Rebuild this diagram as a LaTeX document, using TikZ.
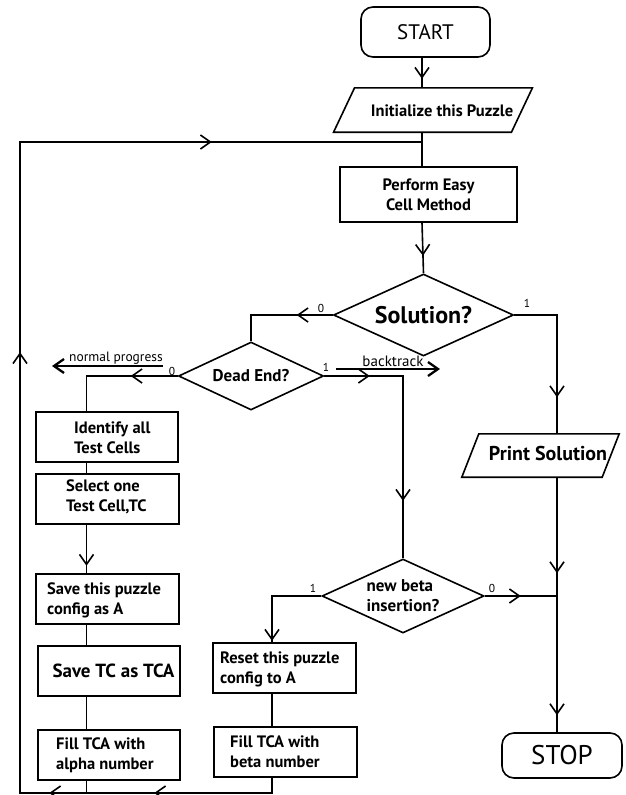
\documentclass[tikz,border=0pt]{standalone}
\usepackage{fontspec}
\setmainfont{PT Sans}
\usetikzlibrary{shapes.geometric,arrows.meta,decorations.markings}

\newcommand\boldsz[1]{\bfseries\fontsize{#1}{20}\selectfont}
\newcommand\plainsz[1]{\fontsize{#1}{#1}\selectfont}
% outline of a slanted (parallelogram) box around a plain rectangle node
\newcommand\slantoutline[2]{%
  \draw[outline] ([xshift=#2]#1.north west) -- ([xshift=#2]#1.north east)
    -- ([xshift=-#2]#1.south east) -- ([xshift=-#2]#1.south west) -- cycle;}

\tikzset{
  conn/.style={line width=1.6pt},
  outline/.style={draw, line width=1.6pt},
  box/.style={draw, line width=1.6pt, rectangle, inner sep=0pt},
  term/.style={draw, line width=1.6pt, rectangle, rounded corners=12pt, inner sep=0pt},
  slantbox/.style={rectangle, inner sep=0pt},
  decision/.style={draw, line width=1.6pt, diamond, aspect=2.2, inner sep=0pt},
  btxt/.style={font=\boldsz{16.5}, align=left, inner sep=0pt},
  flag/.style={font=\plainsz{11.5}, inner sep=0pt},
  midtip/.style={postaction={decorate, decoration={markings,
      mark=at position #1 with {\arrow[line width=1.6pt]{Straight Barb[length=10pt,width=14pt]}}}}},
  hint/.style={line width=2.3pt, -{Straight Barb[length=10pt,width=14pt]}},
}

\begin{document}
\begin{tikzpicture}[x=1pt,y=-1pt]
\useasboundingbox (0,0) rectangle (625,795);
\clip (0,0) rectangle (625,795);

% vertical rails used by the connectors
\coordinate (spine) at (422,0);
\coordinate (rail) at (557,0);
\coordinate (xl) at (86.5,0);
\coordinate (xr) at (272,0);
\coordinate (loopin) at (422,142);
\coordinate (tl) at (20,142);
\coordinate (bl) at (20,793);

% terminals
\node[term, minimum width=129pt, minimum height=50pt, font=\plainsz{21}] (start) at (425.5,32) {START};
\node[term, minimum width=120pt, minimum height=45pt, font=\plainsz{27}] (stop) at (562,755.5) {STOP};

% initialisation
\node[slantbox, minimum width=177.5pt, minimum height=44pt] (init) at (433,110) {};
\slantoutline{init}{10.5pt}
\node[btxt] (init-t) at (442,111) {Initialize this Puzzle};

\node[box, minimum width=177pt, minimum height=55pt, btxt, align=center] (perform) at (428.5,194.5) {Perform Easy\\Cell Method};

% decisions
\node[decision, minimum width=180pt, minimum height=82pt, font=\boldsz{24}] (sol) at (423.5,315) {Solution?};
\node[decision, minimum width=145pt, minimum height=68pt, font=\boldsz{17}] (dead) at (251,376) {Dead End?};
\node[decision, minimum width=162pt, minimum height=74pt, font=\boldsz{17}, align=left] (beta) at (403,596) {new beta\\insertion?};

% output
\node[slantbox, minimum width=140pt, minimum height=43pt] (print) at (540.5,455.5) {};
\slantoutline{print}{8.5pt}
\node[font=\boldsz{20}, inner sep=0pt] (print-t) at (548,453) {Print Solution};

% left column
\node[box, minimum width=142pt, minimum height=50pt] (ident) at (107,437) {};
\node[btxt, anchor=west] (ident-t) at (74,438) {Identify all\\Test Cells};
\node[box, minimum width=143pt, minimum height=50pt] (select) at (107.5,499) {};
\node[btxt, anchor=west] (select-t) at (66,497) {Select one\\Test Cell,TC};
\node[box, minimum width=143pt, minimum height=50pt] (savepz) at (107.5,599) {};
\node[btxt, anchor=west] (savepz-t) at (47,600) {Save this puzzle\\config as A};
\node[box, minimum width=142pt, minimum height=50pt, font=\boldsz{19}] (savetc) at (109,671) {\hspace*{9pt}Save TC as TCA};
\node[box, minimum width=142pt, minimum height=50pt] (fillA) at (109,755) {};
\node[btxt, anchor=west] (fillA-t) at (56,755) {Fill TCA with\\alpha number};

% backtracking column
\node[box, minimum width=143pt, minimum height=50pt] (reset) at (284.5,668) {};
\node[btxt, anchor=west] (reset-t) at (220,669.5) {Reset this puzzle\\config to A};
\node[box, minimum width=143pt, minimum height=50pt] (fillB) at (285.5,752) {};
\node[btxt, anchor=west] (fillB-t) at (230,752) {Fill TCA with\\beta number};

% main flow
\draw[conn, midtip=21pt] (spine |- start.south) -- (spine |- init.north);
\draw[conn] (spine |- init.south) -- (spine |- perform.north);
\draw[conn, midtip=33pt] (spine |- perform.south) -- (sol.north);
\draw[conn, midtip=36pt] (sol.west) -| (dead.north);
\draw[conn, midtip=125pt] (sol.east) -| (rail |- print.north);
\draw[conn, midtip=47pt] (dead.west) -| (xl |- ident.north);
\draw[conn, midtip=45.5pt, midtip=203.5pt] (dead.east) -| (beta.north);
\draw[conn] (xl |- ident.south) -- (xl |- select.north);
\draw[conn, midtip=41pt] (xl |- select.south) -- (xl |- savepz.north);
\draw[conn] (xl |- savepz.south) -- (xl |- savetc.north);
\draw[conn] (xl |- savetc.south) -- (xl |- fillA.north);
\draw[conn, midtip=94pt] (beta.west) -| (xr |- reset.north);
\draw[conn] (xr |- reset.south) -- (xr |- fillB.north);
\draw[conn, midtip=36pt] (beta.east) -- (rail |- beta.east);
\draw[conn, midtip=96pt, midtip=238pt] (rail |- print.south) -- (rail |- stop.north);

% loop back to the easy-cell step
\draw[conn] (xl |- fillA.south) -- (xl |- bl);
\draw[conn, midtip=133pt, midtip=238pt, midtip=708pt, midtip=1110pt]
  (xr |- fillB.south) -- (xr |- bl) -- (bl) -- (tl) -- (loopin);

% branch labels
\node[flag] (f-s0) at (321,308) {0};
\node[flag] (f-s1) at (527,303) {1};
\node[flag] (f-d0) at (172,371) {0};
\node[flag] (f-d1) at (326,367) {1};
\node[flag] (f-b1) at (313,588) {1};
\node[flag] (f-b0) at (492,588) {0};

% direction hints
\coordinate (np-a) at (163,366);
\coordinate (np-b) at (52,366);
\draw[hint] (np-a) -- (np-b);
\node[font=\plainsz{13.5}, inner sep=0pt] (np-t) at (116,358.5) {normal progress};
\coordinate (bt-a) at (336,369);
\coordinate (bt-b) at (440,369);
\draw[hint] (bt-a) -- (bt-b);
\node[font=\plainsz{15}, inner sep=0pt] (bt-t) at (393,361.5) {backtrack};
\end{tikzpicture}
\end{document}
